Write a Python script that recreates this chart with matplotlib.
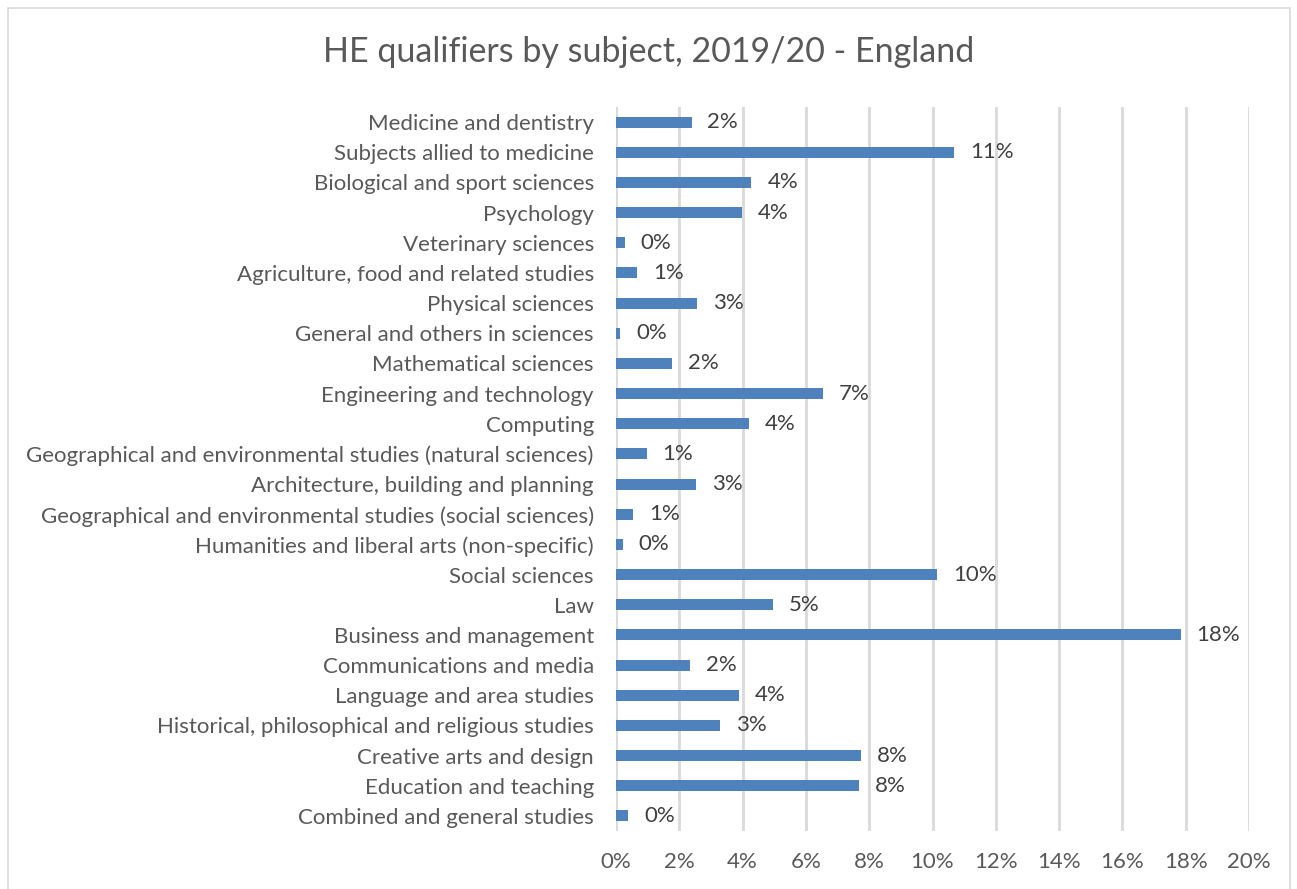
import matplotlib.pyplot as plt
from matplotlib.patches import Rectangle
from matplotlib.ticker import FuncFormatter

# subjects top to bottom as in the chart
subjects = [
    "Medicine and dentistry",
    "Subjects allied to medicine",
    "Biological and sport sciences",
    "Psychology",
    "Veterinary sciences",
    "Agriculture, food and related studies",
    "Physical sciences",
    "General and others in sciences",
    "Mathematical sciences",
    "Engineering and technology",
    "Computing",
    "Geographical and environmental studies (natural sciences)",
    "Architecture, building and planning",
    "Geographical and environmental studies (social sciences)",
    "Humanities and liberal arts (non-specific)",
    "Social sciences",
    "Law",
    "Business and management",
    "Communications and media",
    "Language and area studies",
    "Historical, philosophical and religious studies",
    "Creative arts and design",
    "Education and teaching",
    "Combined and general studies",
]
shares = [2.39, 10.68, 4.28, 3.99, 0.27, 0.66, 2.55, 0.13, 1.78, 6.54, 4.20, 0.97,
          2.52, 0.55, 0.22, 10.14, 4.97, 17.84, 2.34, 3.90, 3.28, 7.74, 7.68, 0.39]
xticks = [0, 2, 4, 6, 8, 10, 12, 14, 16, 18, 20]

text_col = "#595959"
plt.rcParams['font.family'] = ['Lato', 'DejaVu Sans']

fig = plt.figure(figsize=(12.97, 8.89), dpi=100)
fig.patches.append(Rectangle((8 / 1297, -0.01), 1282 / 1297, 1 - 8 / 889 + 0.01,
                             transform=fig.transFigure, fill=False,
                             edgecolor="#D9D9D9", linewidth=1.2))

ax = fig.add_axes([616 / 1297, 1 - 831 / 889, (1249 - 616) / 1297, (831 - 107) / 889])
y = list(range(len(subjects)))
ax.barh(y, shares, height=0.37, color="#4F81BD", zorder=3)
for yi, v in zip(y, shares):
    ax.text(v + 0.5, yi, f"{round(v):.0f}%", va="center", ha="left",
            fontsize=16, color="#404040")

ax.set_ylim(len(subjects) - 0.5, -0.5)
ax.set_xlim(0, 20)
ax.set_yticks(y)
ax.set_yticklabels(subjects, fontsize=16, color=text_col)
ax.set_xticks(xticks)
ax.xaxis.set_major_formatter(FuncFormatter(lambda v, p: f"{v:.0f}%"))
ax.tick_params(axis="x", labelsize=16, labelcolor=text_col, length=0, pad=15)
ax.tick_params(axis="y", length=0, pad=16)
ax.grid(axis="x", color="#D9D9D9", linewidth=2, zorder=0)
for s in ax.spines.values():
    s.set_visible(False)

fig.text(0.5, 1 - 52 / 889, "HE qualifiers by subject, 2019/20 - England",
         ha="center", va="center", fontsize=24.5, color=text_col)

fig.savefig("out.png", dpi=100)
